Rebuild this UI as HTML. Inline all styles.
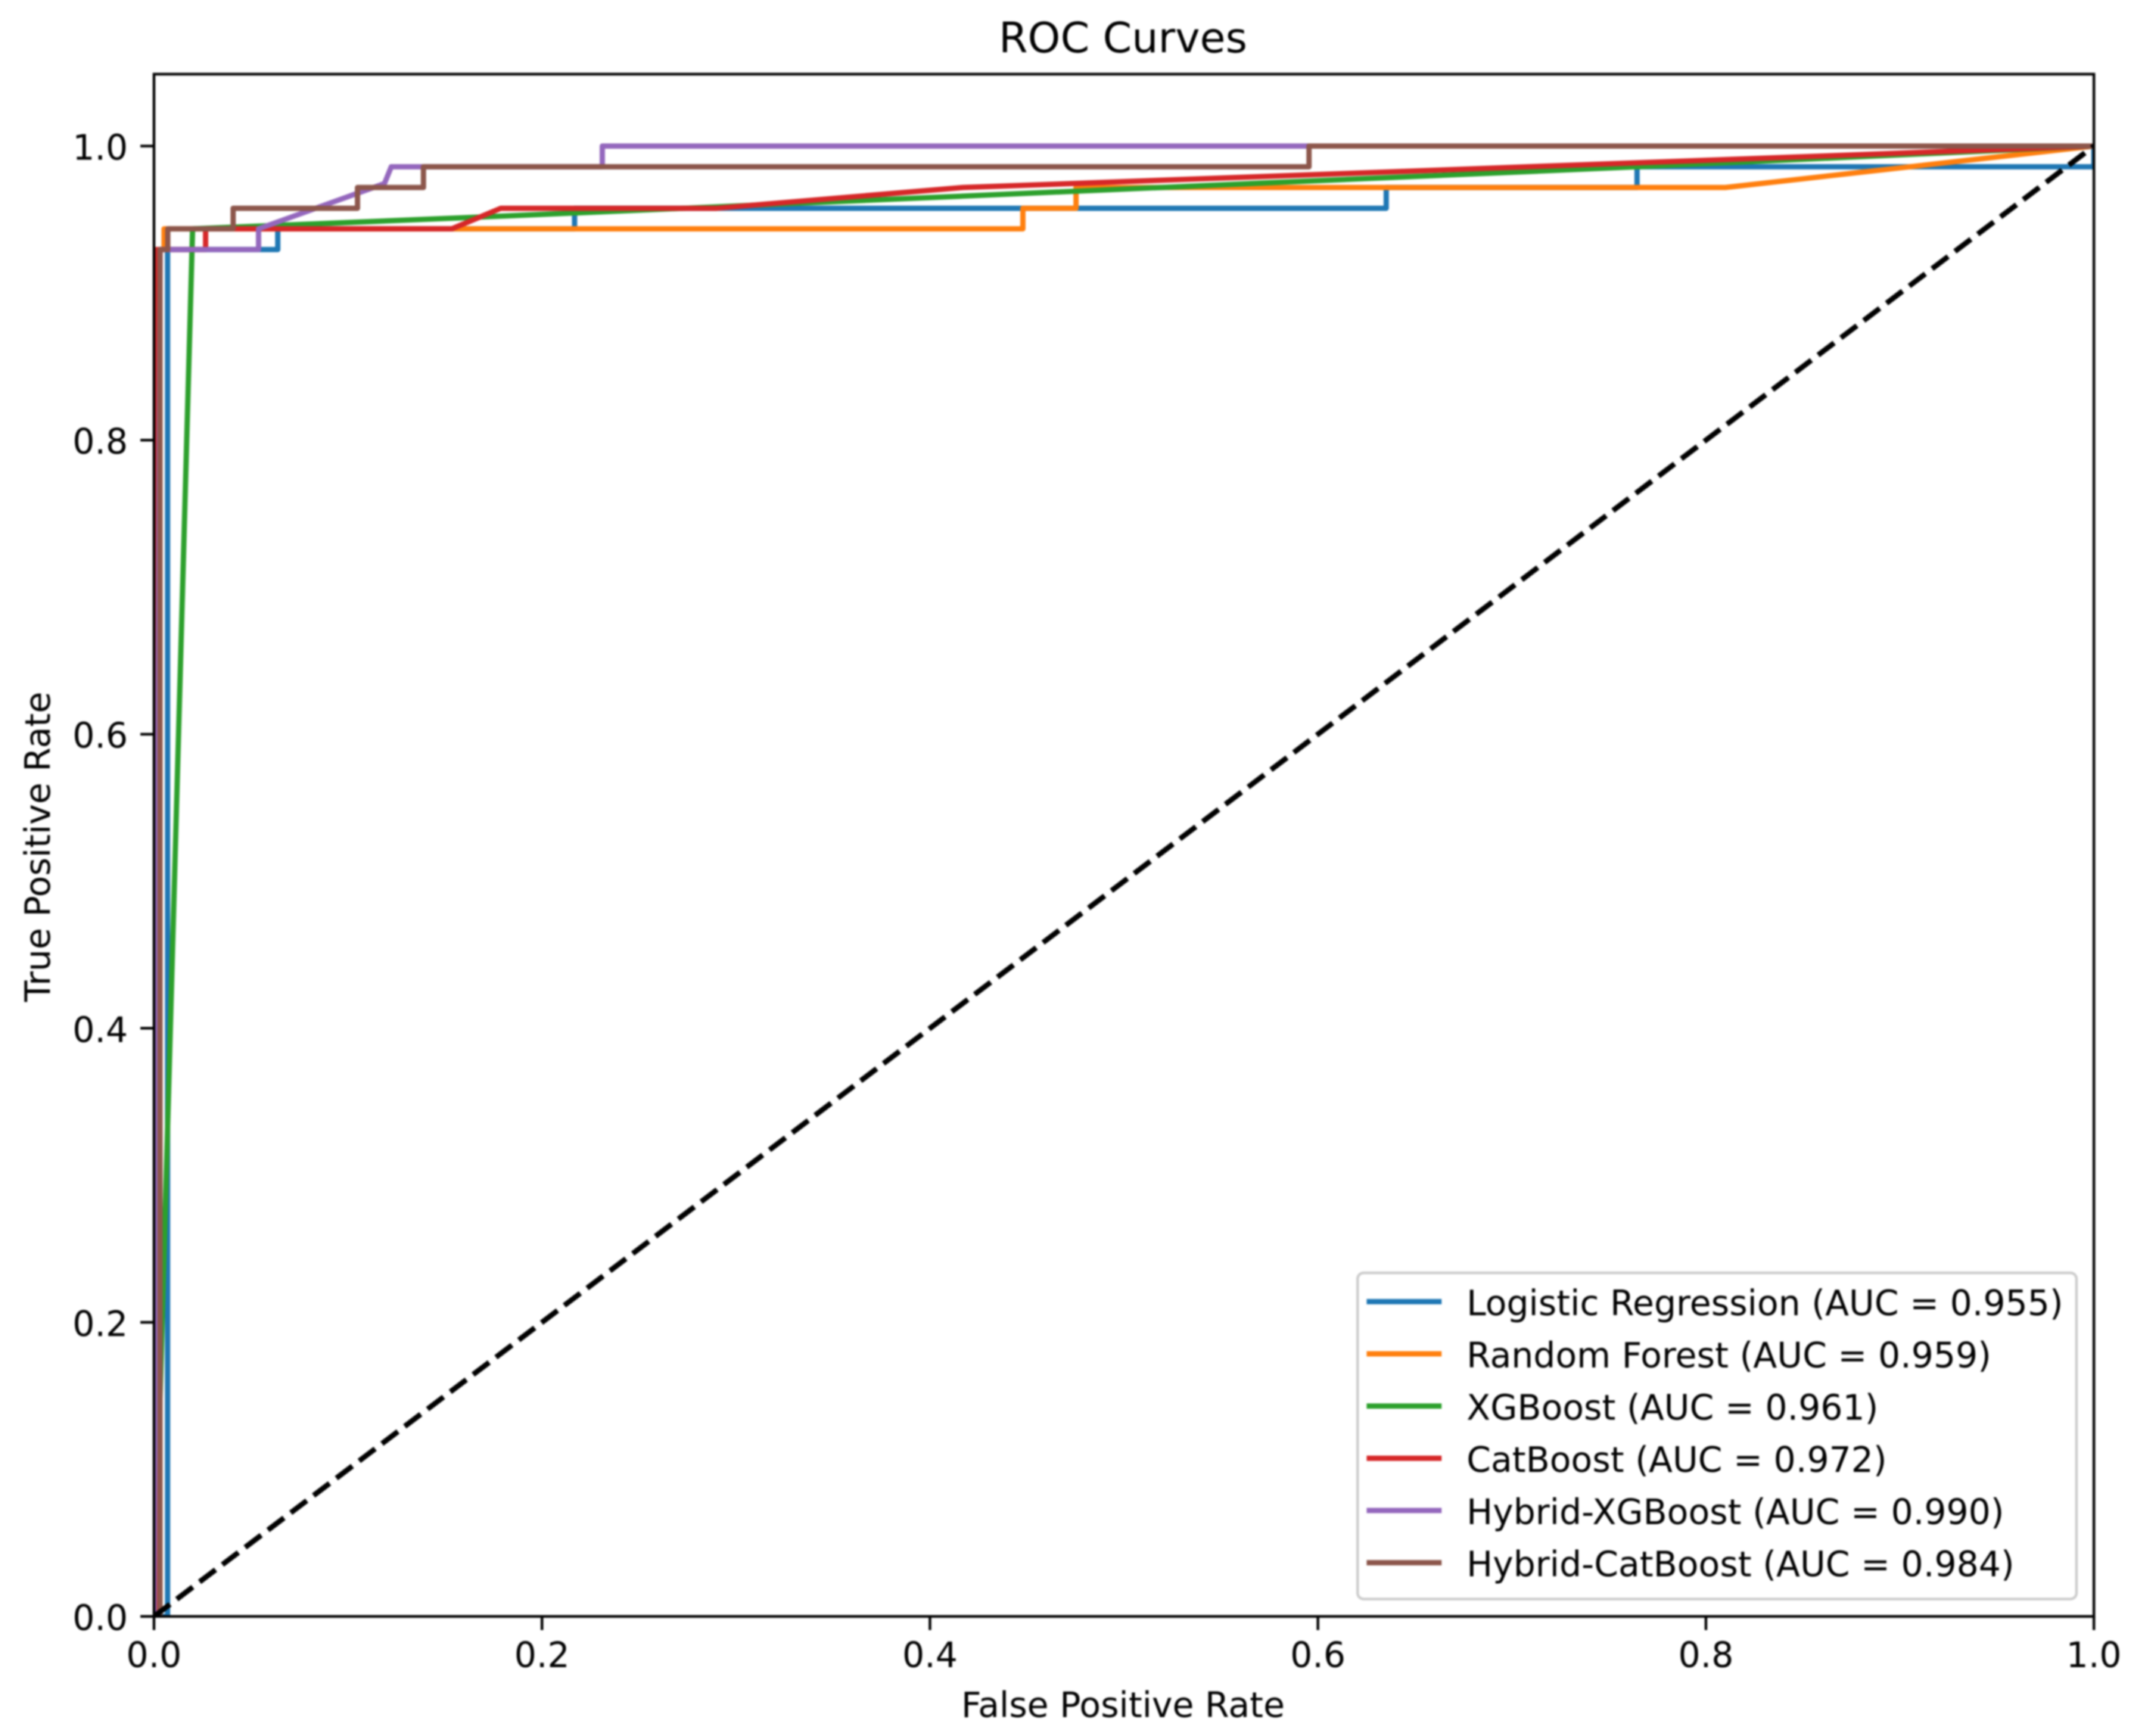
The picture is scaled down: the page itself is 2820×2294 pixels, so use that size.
<!DOCTYPE html>
<html lang="en">
<head>
<meta charset="utf-8">
<title>ROC Curves</title>
<style>
  html, body { margin: 0; padding: 0; background: #fff; }
  body { width: 2820px; height: 2294px; overflow: hidden; }
  svg { display: block; filter: blur(1px); }
  text { font-family: "DejaVu Sans", "Liberation Sans", sans-serif; fill: #000; }
</style>
</head>
<body>
<svg id="chart" xmlns="http://www.w3.org/2000/svg" width="2820" height="2294" viewBox="0 0 2820 2294">
  <defs>
    <clipPath id="plot-clip"><rect x="203.5" y="98" width="2563.5" height="2038"></rect></clipPath>
  </defs>
  <rect x="0" y="0" width="2820" height="2294" fill="#ffffff"></rect>
  <g id="series-layer" clip-path="url(#plot-clip)"></g>
  <g id="axis-layer"></g>
  <rect x="203.5" y="98" width="2563.5" height="2038" fill="none" stroke="#000" stroke-width="3.5"></rect>
  <g id="legend-layer">
    <rect x="1794" y="1682" width="950" height="431" rx="8" ry="8" fill="#ffffff" fill-opacity="0.8" stroke="#cccccc" stroke-width="3.5"></rect>
  </g>
  <text x="1484" y="69" font-size="55" text-anchor="middle">ROC Curves</text>
  <text x="1484" y="2269" font-size="46" text-anchor="middle">False Positive Rate</text>
  <text transform="translate(66 1119) rotate(-90)" font-size="46" text-anchor="middle">True Positive Rate</text>
</svg>
<script>
const xTicks = [0.0, 0.2, 0.4, 0.6, 0.8, 1.0];
const yTicks = [0.0, 0.2, 0.4, 0.6, 0.8, 1.0];
const xTickLabels = ["0.0", "0.2", "0.4", "0.6", "0.8", "1.0"];
const yTickLabels = ["0.0", "0.2", "0.4", "0.6", "0.8", "1.0"];

const modelNames = ["Logistic Regression", "Random Forest", "XGBoost", "CatBoost", "Hybrid-XGBoost", "Hybrid-CatBoost"];
const aucValues = ["0.955", "0.959", "0.961", "0.972", "0.990", "0.984"];
const seriesColors = ["#1f77b4", "#ff7f0e", "#2ca02c", "#d62728", "#9467bd", "#8c564b"];

const fprLogistic = [0, 0.0070, 0.0070, 0.0638, 0.0638, 0.2168, 0.2168, 0.6352, 0.6352, 0.7645, 0.7645, 1, 1];
const tprLogistic = [0, 0, 0.9296, 0.9296, 0.9437, 0.9437, 0.9577, 0.9577, 0.9718, 0.9718, 0.9859, 0.9859, 1];

const fprForest = [0, 0.0030, 0.0030, 0.0052, 0.0052, 0.4479, 0.4479, 0.4753, 0.4753, 0.8100, 1];
const tprForest = [0, 0, 0.9296, 0.9296, 0.9437, 0.9437, 0.9577, 0.9577, 0.9718, 0.9718, 1];

const fprXgb = [0, 0.0199, 0.1824, 0.7645, 1];
const tprXgb = [0, 0.9437, 0.9525, 0.9859, 1];

const fprCat = [0, 0.0012, 0.0012, 0.0266, 0.0266, 0.1535, 0.1788, 0.2900, 0.4170, 1];
const tprCat = [0, 0, 0.9296, 0.9296, 0.9437, 0.9437, 0.9577, 0.9577, 0.9718, 1];

const fprHybridXgb = [0, 0.0032, 0.0539, 0.0539, 0.1188, 0.1223, 0.2311, 0.2311, 1];
const tprHybridXgb = [0, 0.9296, 0.9296, 0.9437, 0.9745, 0.9859, 0.9859, 1, 1];

const fprHybridCat = [0.0031, 0.0031, 0.0071, 0.0071, 0.0408, 0.0408, 0.1049, 0.1049, 0.1389, 0.1389, 0.5954, 0.5954, 1];
const tprHybridCat = [0, 0.9296, 0.9296, 0.9437, 0.9437, 0.9577, 0.9577, 0.9718, 0.9718, 0.9859, 0.9859, 1, 1];

const chanceX = [0, 1];
const chanceY = [0, 1];

const seriesFpr = [fprLogistic, fprForest, fprXgb, fprCat, fprHybridXgb, fprHybridCat];
const seriesTpr = [tprLogistic, tprForest, tprXgb, tprCat, tprHybridXgb, tprHybridCat];
const seriesSlugs = ["logistic-regression", "random-forest", "xgboost", "catboost", "hybrid-xgboost", "hybrid-catboost"];

const NS = "http://www.w3.org/2000/svg";
const AX_LEFT = 203.5, AX_WIDTH = 2563.5, AX_BOTTOM = 2136, AX_UNIT_H = 1943;
const LINE_W = 7;

function xScale(v) { return AX_LEFT + v * AX_WIDTH; }
function yScale(v) { return AX_BOTTOM - v * AX_UNIT_H; }

function pointsFor(xs, ys) {
  return xs.map(function (x, i) { return xScale(x).toFixed(2) + "," + yScale(ys[i]).toFixed(2); }).join(" ");
}

function svgEl(tag, attrs) {
  const el = document.createElementNS(NS, tag);
  Object.keys(attrs).forEach(function (k) { el.setAttribute(k, attrs[k]); });
  return el;
}

const seriesLayer = document.getElementById("series-layer");
const axisLayer = document.getElementById("axis-layer");
const legendLayer = document.getElementById("legend-layer");

seriesFpr.forEach(function (xs, i) {
  const line = svgEl("polyline", {
    points: pointsFor(xs, seriesTpr[i]),
    fill: "none",
    stroke: seriesColors[i],
    "stroke-width": LINE_W,
    "stroke-linejoin": "round",
    "stroke-linecap": "square"
  });
  
  
  seriesLayer.appendChild(line);
});

const chanceLine = svgEl("polyline", {
  points: pointsFor(chanceX, chanceY),
  fill: "none",
  stroke: "#000",
  "stroke-width": LINE_W,
  "stroke-dasharray": "26.5 11.3",
  "stroke-linecap": "butt"
});


seriesLayer.appendChild(chanceLine);

xTicks.forEach(function (t, i) {
  const px = xScale(t);
  const tick = svgEl("line", { x1: px, x2: px, y1: AX_BOTTOM, y2: AX_BOTTOM + 18, stroke: "#000", "stroke-width": 3.5 });
  
  
  axisLayer.appendChild(tick);
  const label = svgEl("text", { x: px, y: AX_BOTTOM + 67, "font-size": 46, "text-anchor": "middle" });
  
  
  label.textContent = xTickLabels[i];
  axisLayer.appendChild(label);
});

yTicks.forEach(function (t, i) {
  const py = yScale(t);
  const tick = svgEl("line", { x1: AX_LEFT, x2: AX_LEFT - 18, y1: py, y2: py, stroke: "#000", "stroke-width": 3.5 });
  
  
  axisLayer.appendChild(tick);
  const label = svgEl("text", { x: 169, y: py + 18, "font-size": 46, "text-anchor": "end" });
  
  
  label.textContent = yTickLabels[i];
  axisLayer.appendChild(label);
});

modelNames.forEach(function (name, i) {
  const rowY = 1720 + i * 69;
  const swatch = svgEl("line", { x1: 1806, x2: 1905, y1: rowY, y2: rowY, stroke: seriesColors[i], "stroke-width": LINE_W });
  
  
  legendLayer.appendChild(swatch);
  const label = svgEl("text", { x: 1938, y: rowY + 18, "font-size": 46 });
  
  
  label.textContent = name + " (AUC = " + aucValues[i] + ")";
  legendLayer.appendChild(label);
});
</script>
</body>
</html>
